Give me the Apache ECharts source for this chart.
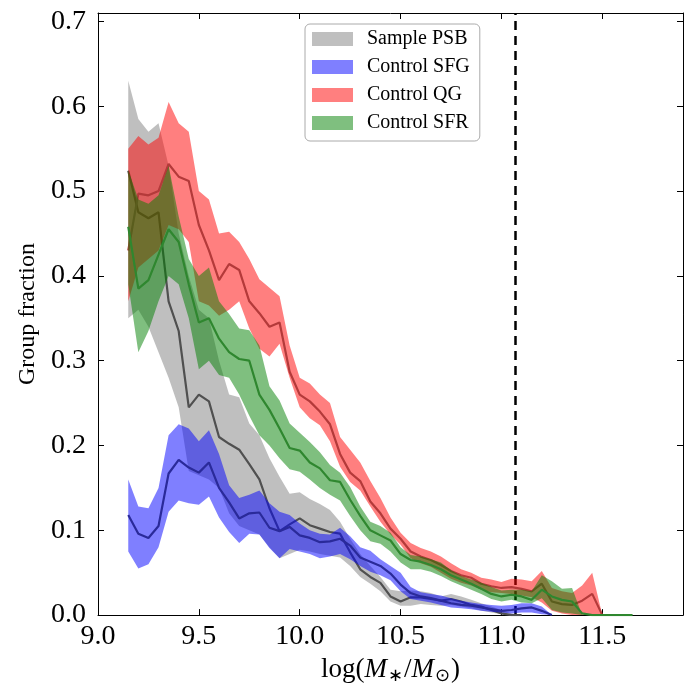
<!DOCTYPE html>
<html><head><meta charset="utf-8">
<script src="https://cdn.jsdelivr.net/npm/echarts@6/dist/echarts.min.js"></script>
<style>html,body{margin:0;padding:0;background:#fff}#c{width:694px;height:690px}</style>
</head><body><div id="c"></div>
<script>
// log stellar mass bins
const logMass = [9.15,9.20,9.25,9.30,9.35,9.40,9.45,9.50,9.55,9.60,9.65,9.70,9.75,9.80,9.85,9.90,9.95,10.00,10.05,10.10,10.15,10.20,10.25,10.30,10.35,10.40,10.45,10.50,10.55,10.60,10.65,10.70,10.75,10.80,10.85,10.90,10.95,11.00,11.05,11.10,11.15,11.20,11.25,11.30,11.35,11.40,11.45,11.50,11.55,11.60,11.65];

// Sample PSB (gray)
const psbMid = [0.524,0.475,0.468,0.475,0.37,0.335,0.245,0.26,0.252,0.21,0.202,0.195,0.178,0.16,0.126,0.099,0.107,0.114,0.106,0.102,0.098,0.096,0.074,0.054,0.045,0.038,0.022,0.016,0.021,0.021,0.019,0.017,0.019,0.016,0.012,0.01,0.006,0.002,0,0,null,null,null,null,null,null,null,null,null,null,null];
const psbHi  = [0.63,0.585,0.57,0.58,0.53,0.45,0.40,0.36,0.35,0.30,0.26,0.257,0.226,0.212,0.185,0.163,0.143,0.145,0.137,0.131,0.124,0.11,0.09,0.072,0.058,0.045,0.03,0.028,0.029,0.028,0.026,0.022,0.025,0.022,0.018,0.014,0.01,0.006,0.002,0,null,null,null,null,null,null,null,null,null,null,null];
const psbLo  = [0.35,0.36,0.34,0.31,0.28,0.245,0.17,0.165,0.16,0.15,0.12,0.105,0.10,0.095,0.08,0.067,0.072,0.077,0.075,0.072,0.07,0.068,0.058,0.045,0.037,0.028,0.016,0.011,0.011,0.013,0.012,0.011,0.012,0.01,0.008,0.005,0.003,0.001,0,0,null,null,null,null,null,null,null,null,null,null,null];

// Control SFG (blue)
const sfgMid = [0.118,0.096,0.091,0.105,0.167,0.183,0.174,0.168,0.18,0.15,0.133,0.114,0.12,0.121,0.103,0.099,0.104,0.094,0.091,0.086,0.087,0.09,0.082,0.068,0.063,0.058,0.049,0.036,0.026,0.022,0.02,0.017,0.014,0.012,0.011,0.009,0.007,0.005,0.006,0.008,0.009,0.005,0,null,null,null,null,null,null,null,null];
const sfgHi  = [0.16,0.128,0.126,0.15,0.212,0.225,0.22,0.205,0.218,0.19,0.153,0.138,0.142,0.147,0.132,0.122,0.118,0.108,0.10,0.096,0.095,0.103,0.093,0.08,0.076,0.066,0.058,0.05,0.033,0.027,0.025,0.023,0.02,0.017,0.015,0.013,0.012,0.011,0.012,0.014,0.014,0.01,0,null,null,null,null,null,null,null,null];
const sfgLo  = [0.075,0.055,0.06,0.08,0.122,0.135,0.132,0.13,0.14,0.115,0.098,0.085,0.096,0.095,0.079,0.067,0.078,0.075,0.072,0.067,0.069,0.072,0.066,0.058,0.051,0.047,0.041,0.028,0.019,0.017,0.015,0.012,0.009,0.008,0.007,0.005,0.004,0.003,0.002,0.003,0.003,0.001,0,null,null,null,null,null,null,null,null];

// Control QG (red)
const qgMid = [0.43,0.497,0.495,0.50,0.532,0.517,0.512,0.46,0.43,0.395,0.414,0.407,0.37,0.356,0.34,0.345,0.287,0.26,0.252,0.24,0.225,0.19,0.168,0.158,0.134,0.12,0.102,0.09,0.075,0.069,0.065,0.059,0.052,0.047,0.044,0.037,0.034,0.032,0.033,0.031,0.028,0.037,0.016,0.013,0.012,0.017,0.025,0,null,null,null];
const qgHi  = [0.55,0.565,0.555,0.563,0.605,0.58,0.57,0.50,0.49,0.45,0.452,0.44,0.42,0.396,0.386,0.376,0.318,0.28,0.273,0.26,0.25,0.21,0.195,0.18,0.158,0.138,0.115,0.097,0.085,0.079,0.075,0.069,0.061,0.054,0.05,0.044,0.042,0.039,0.043,0.042,0.04,0.052,0.032,0.028,0.026,0.035,0.05,0,null,null,null];
const qgLo  = [0.37,0.41,0.42,0.43,0.46,0.455,0.44,0.37,0.365,0.353,0.36,0.37,0.338,0.314,0.305,0.32,0.28,0.245,0.232,0.224,0.205,0.175,0.157,0.147,0.128,0.11,0.095,0.083,0.067,0.061,0.057,0.05,0.043,0.038,0.035,0.03,0.027,0.026,0.025,0.023,0.021,0.015,0.005,0.002,0,0,0,0,null,null,null];

// Control SFR (green)
const sfrMid = [0.458,0.385,0.395,0.425,0.455,0.44,0.39,0.345,0.35,0.326,0.31,0.302,0.30,0.26,0.242,0.22,0.197,0.194,0.18,0.173,0.159,0.157,0.136,0.117,0.10,0.094,0.088,0.072,0.065,0.063,0.059,0.054,0.047,0.042,0.037,0.031,0.025,0.022,0.024,0.022,0.018,0.03,0.022,0.018,0.016,0.002,0,0,0,0,0];
const sfrHi  = [0.525,0.49,0.485,0.495,0.53,0.47,0.42,0.40,0.41,0.37,0.355,0.338,0.336,0.318,0.27,0.253,0.226,0.215,0.204,0.192,0.177,0.168,0.151,0.128,0.11,0.105,0.097,0.08,0.071,0.069,0.066,0.062,0.053,0.046,0.042,0.038,0.033,0.029,0.03,0.03,0.028,0.047,0.04,0.031,0.032,0,null,null,null,null,null];
const sfrLo  = [0.39,0.31,0.335,0.37,0.40,0.39,0.35,0.29,0.30,0.283,0.28,0.26,0.235,0.212,0.20,0.185,0.172,0.169,0.16,0.15,0.142,0.135,0.117,0.10,0.087,0.084,0.075,0.062,0.054,0.054,0.051,0.046,0.04,0.035,0.03,0.025,0.019,0.016,0.018,0.015,0.014,0.02,0.006,0.003,0.002,0,null,null,null,null,null];

const groupNames = ['Sample PSB', 'Control SFG', 'Control QG', 'Control SFR'];
const xTicks = ['9.0','9.5','10.0','10.5','11.0','11.5'];
const yTicks = ['0.0','0.1','0.2','0.3','0.4','0.5','0.6','0.7'];
const massLimit = 11.07;

const FONT = 'Liberation Serif';
const chart = echarts.init(document.getElementById('c'));

function band(name, lo, hi, fill, z) {
  const rows = logMass.map((x, i) => [x, lo[i], hi[i]]).filter(r => r[1] != null && r[2] != null);
  return {
    type: 'custom', name, data: rows, encode: {x: 0, y: [1, 2]}, z, silent: true,
    itemStyle: {color: fill},
    renderItem(params, api) {
      if (params.dataIndex !== 0) return null;
      const pts = [];
      for (const r of rows) pts.push(api.coord([r[0], r[2]]));
      for (let i = rows.length - 1; i >= 0; i--) pts.push(api.coord([rows[i][0], rows[i][1]]));
      return {type: 'polygon', shape: {points: pts}, style: {fill}};
    }
  };
}
function mline(name, mid, color, z, extra) {
  return Object.assign({
    type: 'line', name, z, silent: true, symbol: 'none', showSymbol: false,
    data: logMass.map((x, i) => [x, mid[i]]).filter(r => r[1] != null),
    lineStyle: {color, width: 2.2}
  }, extra || {});
}
function tickFmt(list, dec) {
  return v => { const s = v.toFixed(dec); return list.includes(s) ? s : ''; };
}

const option = {
  animation: false,
  textStyle: {fontFamily: FONT},
  grid: {left: 98, right: 11, top: 13, bottom: 73},
  legend: {
    orient: 'vertical', left: 305, top: 24, padding: [5, 10, 8, 7], itemGap: 8,
    itemWidth: 41, itemHeight: 14, backgroundColor: '#fff', borderColor: '#aaa', borderWidth: 1, borderRadius: 5,
    selectedMode: false,
    formatter: name => '{t|' + name + '}',
    textStyle: {fontFamily: FONT, fontSize: 20, color: '#000', lineHeight: 20,
      rich: {t: {fontFamily: FONT, fontSize: 20, color: '#000', lineHeight: 20, padding: [0, 0, 0, 9]}}},
    data: groupNames.map(n => ({name: n, icon: 'rect'}))
  },
  xAxis: [{
    type: 'value', min: 9.0, max: 11.9, interval: 0.5,
    axisLine: {onZero: false, lineStyle: {color: '#000', width: 1}},
    axisTick: {inside: true, length: 6, lineStyle: {color: '#000'}},
    splitLine: {show: false},
    axisLabel: {formatter: tickFmt(xTicks, 1), fontFamily: FONT, fontSize: 28, color: '#000', margin: 8},
    name: '{n|log(}{i|M}{s|∗}{n|/}{i|M}{s|⊙}{n|)}', nameLocation: 'middle', nameGap: 28,
    nameTextStyle: {fontFamily: FONT, fontSize: 27, color: '#000', rich: {
      n: {fontFamily: FONT, fontSize: 27, color: '#000'},
      i: {fontFamily: FONT, fontSize: 27, fontStyle: 'italic', color: '#000'},
      s: {fontFamily: FONT, fontSize: 18, color: '#000', padding: [13, 1, 0, 1]}
    }}
  }, {
    type: 'value', position: 'top', min: 9.0, max: 11.9, interval: 0.5,
    axisLine: {onZero: false, lineStyle: {color: '#000', width: 1}},
    axisTick: {inside: true, length: 6, lineStyle: {color: '#000'}},
    axisLabel: {show: false}, splitLine: {show: false}
  }],
  yAxis: [{
    type: 'value', min: 0, max: 0.71, interval: 0.1,
    axisLine: {show: true, onZero: false, lineStyle: {color: '#000', width: 1}},
    axisTick: {show: true, inside: true, length: 6, lineStyle: {color: '#000'}},
    splitLine: {show: false},
    axisLabel: {formatter: tickFmt(yTicks, 1), fontFamily: FONT, fontSize: 28, color: '#000', margin: 12},
    name: 'Group fraction', nameLocation: 'middle', nameGap: 58,
    nameTextStyle: {fontFamily: FONT, fontSize: 24, color: '#000'}
  }, {
    type: 'value', position: 'right', min: 0, max: 0.71, interval: 0.1,
    axisLine: {show: true, onZero: false, lineStyle: {color: '#000', width: 1}},
    axisTick: {show: true, inside: true, length: 6, lineStyle: {color: '#000'}},
    axisLabel: {show: false}, splitLine: {show: false}
  }],
  series: [
    band(groupNames[0], psbLo, psbHi, 'rgba(128,128,128,0.5)', 10),
    mline('PSB median', psbMid, '#505050', 11),
    band(groupNames[1], sfgLo, sfgHi, 'rgba(0,0,255,0.5)', 12),
    mline('SFG median', sfgMid, '#2a2a9a', 13),
    band(groupNames[2], qgLo, qgHi, 'rgba(255,0,0,0.5)', 14),
    mline('QG median', qgMid, '#b43a3a', 15),
    band(groupNames[3], sfrLo, sfrHi, 'rgba(0,128,0,0.5)', 16),
    mline('SFR median', sfrMid, '#2f872f', 17, {
      markLine: {silent: true, symbol: ['none', 'none'], label: {show: false},
        lineStyle: {color: '#000', width: 2.5, type: [9, 6]},
        data: [{xAxis: massLimit}]}
    })
  ]
};
chart.setOption(option);
</script></body></html>
